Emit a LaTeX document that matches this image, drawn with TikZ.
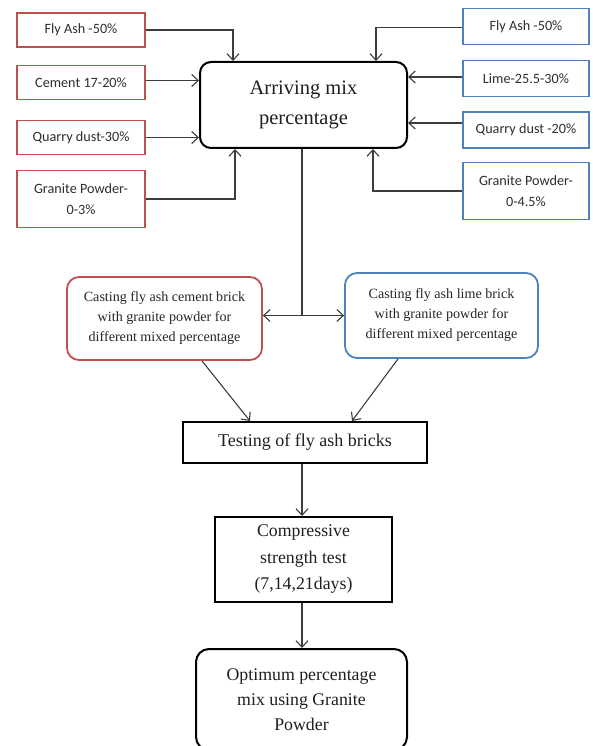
\documentclass[tikz,border=0pt]{standalone}
\usepackage{fontspec}
\setmainfont{Liberation Serif}
\newfontfamily\carlito{Carlito}
\usetikzlibrary{positioning}
\usetikzlibrary{arrows.meta}

\definecolor{boxred}{RGB}{192,80,77}
\definecolor{boxblue}{RGB}{79,129,189}
\definecolor{linegray}{RGB}{60,60,60}

\tikzset{
  inbox/.style={line width=1.6pt, minimum width=128pt, inner sep=0pt, align=center,
    text=black!82, font=\carlito\fontsize{14.2}{21}\selectfont},
  redbox/.style={inbox, draw=boxred},
  bluebox/.style={inbox, draw=boxblue, minimum width=126pt},
  castbox/.style={line width=1.8pt, rounded corners=12pt, inner sep=0pt, align=center,
    text=black!85, font=\fontsize{14.1}{20}\selectfont},
  stepbox/.style={draw=black, line width=2pt, inner sep=0pt, align=center, text=black!88},
  conn/.style={draw=linegray, line width=1.1pt}
}

\begin{document}
\begin{tikzpicture}[x=1pt, y=-1pt, >={Straight Barb[length=6.5pt,width=12pt]}]
        \useasboundingbox (0,0) rectangle (592,746);
        % mixing box
        \node[stepbox, rounded corners=11pt, minimum width=207pt, minimum height=86pt,
              font=\fontsize{20.5}{30}\selectfont] (mix) at (303.5,105) {Arriving mix\\percentage};
        % fly ash cement side
        \node[redbox, minimum height=34pt] (flyL) at (81,30) {Fly Ash -50\%};
        \node[redbox, minimum height=34pt] (cemL) at (81,82.5) {Cement 17-20\%};
        \node[redbox, minimum height=34pt] (quaL) at (81,137.5) {Quarry dust-30\%};
        \node[redbox, minimum height=57pt] (graL) at (81,199) {Granite Powder-\\0-3\%};
        % fly ash lime side
        \node[bluebox, minimum height=36pt] (flyR) at (526,26.5) {Fly Ash -50\%};
        \node[bluebox, minimum height=36pt] (limR) at (526,78.5) {Lime-25.5-30\%};
        \node[bluebox, minimum height=36pt] (quaR) at (526,130) {Quarry dust -20\%};
        \node[bluebox, minimum height=57pt] (graR) at (526,191) {Granite Powder-\\0-4.5\%};
        \draw[conn, ->] (flyL.east) -| ([xshift=-70.5pt]mix.north);
        \draw[conn, ->] ([yshift=2pt]cemL.east) -- ([yshift=2pt]cemL.east -| mix.west);
        \draw[conn, ->] (quaL.east) -- (quaL.east -| mix.west);
        \draw[conn, ->] (graL.east) -| ([xshift=-68.5pt]mix.south);
        \draw[conn, ->] ([yshift=-1pt]flyR.west) -| ([xshift=72.5pt]mix.north);
        \draw[conn, ->] ([yshift=1.5pt]limR.west) -- ([yshift=1.5pt]limR.west -| mix.east);
        \draw[conn, ->] ([yshift=7pt]quaR.west) -- ([yshift=7pt]quaR.west -| mix.east);
        \draw[conn, ->] (graR.west) -| ([xshift=69.5pt]mix.south);
        % casting
        \node[castbox, draw=boxred, minimum width=195pt, minimum height=83pt] (castL) at (164.5,318.5)
              {Casting fly ash cement brick\\with granite powder for\\different mixed percentage};
        \node[castbox, draw=boxblue, minimum width=193pt, minimum height=85pt] (castR) at (441.5,315.5)
              {Casting fly ash lime brick\\with granite powder for\\different mixed percentage};
        \draw[conn] ([xshift=-1.5pt]mix.south) -- ([xshift=-1.5pt]mix.south |- castR.west);
        \draw[conn, <->] (castL.east |- castR.west) -- (castR.west);
        % testing
        \node[stepbox, minimum width=244pt, minimum height=41pt,
              font=\fontsize{18}{20}\selectfont] (test) at (305,442.5) {Testing of fly ash bricks};
        \draw[conn, ->] ([xshift=37.5pt]castL.south) -- ([xshift=-55pt]test.north);
        \draw[conn, ->] ([xshift=-43.5pt]castR.south) -- ([xshift=47pt]test.north);
        \node[stepbox, minimum width=177pt, minimum height=85pt,
              font=\fontsize{17.8}{26.5}\selectfont] (comp) at (303.5,559.5)
              {Compressive\\strength test\\(7,14,21days)};
        \draw[conn, ->] ([xshift=-3pt]test.south) -- ([xshift=-1.5pt]comp.north);
        \node[stepbox, rounded corners=13pt, minimum width=211pt, minimum height=101pt,
              font=\fontsize{17.8}{25}\selectfont] (opt) at (301.5,699.5)
              {Optimum percentage\\mix using Granite\\Powder};
        \draw[conn, ->] ([xshift=-1.5pt]comp.south) -- ([xshift=0.5pt]opt.north);
\end{tikzpicture}
\end{document}
